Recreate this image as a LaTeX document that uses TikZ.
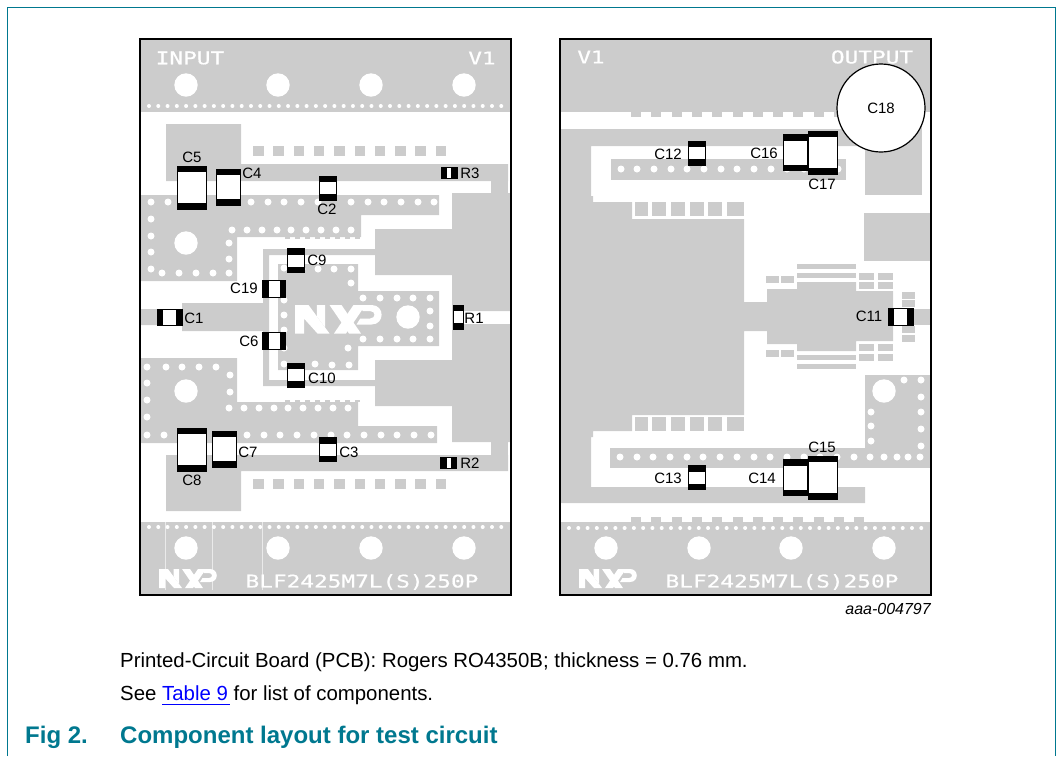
\documentclass[tikz,border=0pt]{standalone}
\usepackage{fontspec}
\setmainfont{Liberation Sans}
\newfontfamily\pcbfont[FakeStretch=1.3,FakeBold=0.6]{DejaVu Sans Mono}
\definecolor{copper}{HTML}{CCCCCC}
\definecolor{nxpteal}{HTML}{00788F}
\definecolor{linkblue}{HTML}{0000FF}
\tikzstyle{copper} = [fill=copper]
\tikzstyle{via} = [fill=white]
\tikzstyle{boardedge} = [draw=black, line width=1.5pt]
\tikzstyle{partlabel} = [inner sep=0pt, font=\fontsize{15}{15}\selectfont]
\tikzstyle{silk} = [inner sep=0pt, text=white, font=\pcbfont\fontsize{17.5}{17.5}\selectfont]
\tikzstyle{note} = [inner sep=0pt, anchor=base west, font=\fontsize{20.4}{24}\selectfont]
\tikzstyle{caption} = [inner sep=0pt, anchor=base west, text=nxpteal, font=\bfseries\fontsize{24}{26}\selectfont]
\tikzstyle{chipv} = [draw, fill=white, line width=0.8pt, inner sep=0pt, path picture={
    \fill[black] (path picture bounding box.north west) rectangle ([yshift=-6pt]path picture bounding box.north east);
    \fill[black] (path picture bounding box.south west) rectangle ([yshift=6pt]path picture bounding box.south east);}]
\tikzstyle{chiph} = [draw, fill=white, line width=0.8pt, inner sep=0pt, path picture={
    \fill[black] (path picture bounding box.north west) rectangle ([xshift=6pt]path picture bounding box.south west);
    \fill[black] (path picture bounding box.north east) rectangle ([xshift=-6pt]path picture bounding box.south east);}]
\tikzstyle{bigcap} = [chipv, minimum width=29pt, minimum height=43pt]
\tikzstyle{midcap} = [chipv, minimum width=24pt, minimum height=36pt]
\tikzstyle{smallcap} = [chipv, minimum width=17pt, minimum height=24pt]
\tikzstyle{sidecap} = [chiph, minimum width=23pt, minimum height=17pt]
\tikzstyle{sideres} = [chiph, minimum width=16pt, minimum height=11pt]
\tikzset{nxplogo/.pic={
    \fill[white] (0,0) -- (9,0) -- (23,19) -- (15,19) -- (6,9) -- (6,19) -- (0,19) -- cycle;
    \fill[white] (14.5,0) -- (20,0) -- (20,14.9) -- (14.5,7.46) -- cycle;
    \fill[white] (23,0) -- (31,0) -- (44,19) -- (36,19) -- cycle;
    \fill[white] (26,19) -- (34,19) -- (47,0) -- (39,0) -- cycle;
    \fill[white] (44,0) -- (51,0) .. controls (60,0) and (60,13) .. (51,13) -- (41,13) -- (43.5,9) -- (50,9) .. controls (54,9) and (54,4) .. (50,4) -- (45,4) -- cycle;
}}

\begin{document}
\begin{tikzpicture}[x=1pt,y=-1pt]
    \useasboundingbox (0,0) rectangle (1062,756);
    \draw[draw=nxpteal, line width=1.5pt] (7.5,756) -- (7.5,7.5) -- (1055.5,7.5) -- (1055.5,756);

    % left board
    \fill[copper] (140,39) rectangle (511,112);
    \fill[copper] (140,522) rectangle (511,595);
    \fill[copper] (166,124) -- (241,124) -- (241,164) -- (508,164) -- (508,181) -- (166,181) -- cycle;
    \fill[copper] (491,181) rectangle (508,193);
    \fill[copper] (140,195) -- (439,195) -- (439,215) -- (361,215) -- (361,237) -- (237,237) -- (237,281) -- (140,281) -- cycle;
    \fill[copper] (452,193) -- (510,193) -- (510,311) -- (463,311) -- (463,324) -- (510,324) -- (510,442) -- (452,442)
        -- (452,406) -- (375,406) -- (375,360) -- (452,360) -- (452,275) -- (375,275) -- (375,229) -- (452,229) -- cycle;
    \fill[copper] (375,249) -- (263,249) -- (263,303) -- (182,303) -- (182,309) -- (140,309) -- (140,325) -- (182,325) -- (182,331)
        -- (263,331) -- (263,386) -- (375,386) -- (375,380) -- (269,380) -- (269,255) -- (375,255) -- cycle;
    \fill[copper] (278,264) -- (358,264) -- (358,291) -- (439,291) -- (439,346) -- (358,346) -- (358,370) -- (278,370) -- cycle;
    \fill[copper] (140,358) -- (237,358) -- (237,402) -- (358,402) -- (358,426) -- (437,426) -- (437,443) -- (140,443) -- cycle;
    \fill[copper] (166,455) -- (508,455) -- (508,471) -- (241,471) -- (241,511) -- (166,511) -- cycle;
    \fill[copper] (491,442) rectangle (508,455);

    \foreach \k in {0,...,9} {
        \fill[copper] ({253+20.3*\k},146) rectangle +(10.5,10);
        \fill[copper] ({253+20.3*\k},479) rectangle +(10.5,10);
    }
    \foreach \k in {0,...,7} {
        \fill[copper] ({285+10*\k},237) rectangle +(5,2);
        \fill[copper] ({285+10*\k},400) rectangle +(5,2);
    }
    \foreach \x in {165,212,262}
        \draw[white, opacity=0.6, line width=0.4pt] (\x,522) -- (\x,590);

    \foreach \k in {0,...,38} {
        \fill[via] ({149+9.27*\k},106) circle (2);
        \fill[via] ({149+9.27*\k},527) circle (2);
    }
    \foreach \x in {186,278,371,464} {
        \fill[via] (\x,85) circle (11.7);
        \fill[via] (\x,548) circle (11.7);
    }
    \fill[via] (186,243) circle (11.7);
    \fill[via] (186,391) circle (11.7);
    \fill[via] (408,317) circle (11.7);
    \foreach \x/\y in {151/202,168/202,251/202,268/202,284/202,301/202,318/202,351/202,368/202,384/202,401/202,418/202,434/202,
        151/219,151/236,151/252,151/269,162/273,179/273,196/273,213/273,229/273,229/243,229/259,
        232/230,247/230,262/230,277/230,291/230,306/230,321/230,336/230,351/230,
        284/268,302/269,318/269,334/269,351/269,351/283,284/300,284/315,284/330,284/348,284/364,315/364,332/365,349/365,348/348,
        363/298,380/298,397/298,413/298,430/298,430/311,430/326,363/339,380/339,397/339,413/339,430/339,
        147/367,166/367,182/367,199/367,216/367,230/375,230/392,229/408,147/383,147/400,147/417,
        244/408,259/408,274/408,288/408,303/408,318/408,333/408,348/408,
        147/435,164/435,247/435,264/435,280/435,297/435,314/435,331/435,347/435,364/435,381/435,397/435,414/435,431/435}
        \fill[via] (\x,\y) circle (3.5);
    \pic[scale=1.5] at (295,305) {nxplogo};
    \pic at (159,569) {nxplogo};

    % right board
    \fill[copper] (560,39) rectangle (931,112);
    \fill[copper] (560,522) rectangle (931,595);
    \fill[copper] (865,112) rectangle (922,195);
    \fill[copper] (560,129) -- (865,129) -- (865,146) -- (591,146) -- (591,196) -- (593,196) -- (593,202) -- (632,202) -- (632,219)
        -- (744,219) -- (744,302) -- (767,302) -- (767,289) -- (797,289) -- (797,282) -- (856,282) -- (856,291) -- (893,291)
        -- (893,341) -- (856,341) -- (856,351) -- (797,351) -- (797,344) -- (767,344) -- (767,331) -- (744,331) -- (744,415)
        -- (632,415) -- (632,431) -- (593,431) -- (593,437) -- (591,437) -- (591,487) -- (865,487) -- (865,503) -- (560,503) -- cycle;
    \fill[copper] (611,159) rectangle (846,180);
    \fill[copper] (610,448) rectangle (930,468);
    \fill[copper] (864,213) rectangle (930,261);
    \fill[copper] (865,375) rectangle (930,468);
    \fill[copper] (893,309) rectangle (930,325);

    \foreach \k in {0,...,10}
        \fill[copper] ({631+20.3*\k},112) rectangle +(10,5);
    \foreach \k in {0,...,11}
        \fill[copper] ({631+20.3*\k},517) rectangle +(10,5);
    \foreach \a/\b in {635/648,652/666,671/685,690/704,708/722,727/744} {
        \fill[copper] (\a,202) rectangle (\b,216);
        \fill[copper] (\a,417) rectangle (\b,431);
    }
    \foreach \y in {264,273,355,364}
        \fill[copper] (797,\y) rectangle (856,{\y+5});
    \foreach \a/\b in {766/779,781/794} {
        \fill[copper] (\a,276) rectangle (\b,283);
        \fill[copper] (\a,350) rectangle (\b,357);
    }
    \foreach \a/\b in {859/874,878/893} \foreach \y in {273,282,344,354}
        \fill[copper] (\a,\y) rectangle (\b,{\y+7});
    \foreach \y in {292,300,326,335}
        \fill[copper] (902,\y) rectangle (915,{\y+6.5});

    \foreach \k in {0,...,38}
        \fill[via] ({569+9.27*\k},528) circle (2);
    \foreach \x in {606,699,791,884}
        \fill[via] (\x,548) circle (11.7);
    \fill[via] (884,391) circle (11.7);
    \foreach \x/\y in {621/169,637/169,654/169,671/169,687/169,704/169,721/169,737/169,754/169,771/169,787/169,804/169,821/169,838/169,
        620/457,637/457,653/457,670/457,687/457,703/457,720/457,737/457,754/457,770/457,787/457,804/457,820/457,837/457,854/457,870/457,884/457,897/457,908/457,920/457,
        904/380,921/380,921/397,871/412,921/412,871/426,921/429,871/441,921/446}
        \fill[via] (\x,\y) circle (3.5);
    \pic at (579,569) {nxplogo};

    \draw[boardedge] (140,39) rectangle (511,595);
    \draw[boardedge] (560,39) rectangle (931,595);

    % board texts
    \node[silk] (input) at (190,58) {INPUT};
    \node[silk] (vleft) at (482,58) {V1};
    \node[silk] (vright) at (591,57) {V1};
    \node[silk] (output) at (872,57) {OUTPUT};
    \node[silk] (typeleft) at (362,582) {BLF2425M7L(S)250P};
    \node[silk] (typeright) at (782,582) {BLF2425M7L(S)250P};

    % parts
    \node[bigcap] (c5) at (191.5,187.5) {};
    \node[midcap] (c4) at (228,187) {};
    \node[smallcap] (c2) at (327.5,188) {};
    \node[sideres] (r3) at (449,172.5) {};
    \node[smallcap] (c9) at (295.5,260.5) {};
    \node[sidecap] (c19) at (274,288.5) {};
    \node[chiph, minimum width=25pt, minimum height=16pt] (c1) at (169.5,317) {};
    \node[sidecap] (c6) at (274,340.5) {};
    \node[smallcap] (c10) at (295.5,375) {};
    \node[chipv, minimum width=10pt, minimum height=24pt] (r1) at (458,317) {};
    \node[bigcap] (c8) at (191.5,449.5) {};
    \node[midcap] (c7) at (224.5,449) {};
    \node[smallcap] (c3) at (327.5,449.5) {};
    \node[sideres] (r2) at (448.5,462.5) {};
    \node[smallcap] (c12) at (696.5,153) {};
    \node[midcap] (c16) at (795,152.5) {};
    \node[bigcap] (c17) at (822.5,152.5) {};
    \node[chiph, minimum width=25pt, minimum height=17pt] (c11) at (900.5,316.5) {};
    \node[smallcap] (c13) at (696.5,477.5) {};
    \node[midcap] (c14) at (795,477.5) {};
    \node[bigcap] (c15) at (822.5,477.5) {};
    \node[draw, fill=white, circle, line width=1.2pt, minimum size=88pt, inner sep=0pt, font=\fontsize{15}{15}\selectfont] (c18) at (881,108) {C18};

    \node[partlabel] (c5t) at (192,157) {C5};
    \node[partlabel] (c4t) at (252,173) {C4};
    \node[partlabel] (c2t) at (327,209) {C2};
    \node[partlabel] (r3t) at (470,173) {R3};
    \node[partlabel] (c9t) at (317,260) {C9};
    \node[partlabel] (c19t) at (244,288) {C19};
    \node[partlabel] (c1t) at (194,318) {C1};
    \node[partlabel] (c6t) at (249,341) {C6};
    \node[partlabel] (c10t) at (322,378) {C10};
    \node[partlabel] (r1t) at (474,318) {R1};
    \node[partlabel] (c8t) at (192,480) {C8};
    \node[partlabel] (c7t) at (248,452) {C7};
    \node[partlabel] (c3t) at (349,452) {C3};
    \node[partlabel] (r2t) at (470,463) {R2};
    \node[partlabel] (c12t) at (668,154) {C12};
    \node[partlabel] (c16t) at (764,153) {C16};
    \node[partlabel] (c17t) at (822,184) {C17};
    \node[partlabel] (c11t) at (869,316) {C11};
    \node[partlabel] (c13t) at (668,478) {C13};
    \node[partlabel] (c14t) at (762,478) {C14};
    \node[partlabel] (c15t) at (822,447) {C15};

    % notes below the boards
    \node[inner sep=0pt, anchor=east, font=\itshape\fontsize{16}{16}\selectfont] (artno) at (931,609) {aaa-004797};
    \node[note] (pcbnote) at (120,667) {Printed-Circuit Board (PCB): Rogers RO4350B; thickness = 0.76 mm.};
    \node[note] (tablenote) at (120,700) {See {\color{linkblue}\rlap{\rule[-5pt]{68pt}{1.4pt}}Table 9} for list of components.};
    \node[caption] (fignum) at (25,743) {Fig 2.};
    \node[caption] (figtitle) at (120,743) {Component layout for test circuit};
\end{tikzpicture}
\end{document}
